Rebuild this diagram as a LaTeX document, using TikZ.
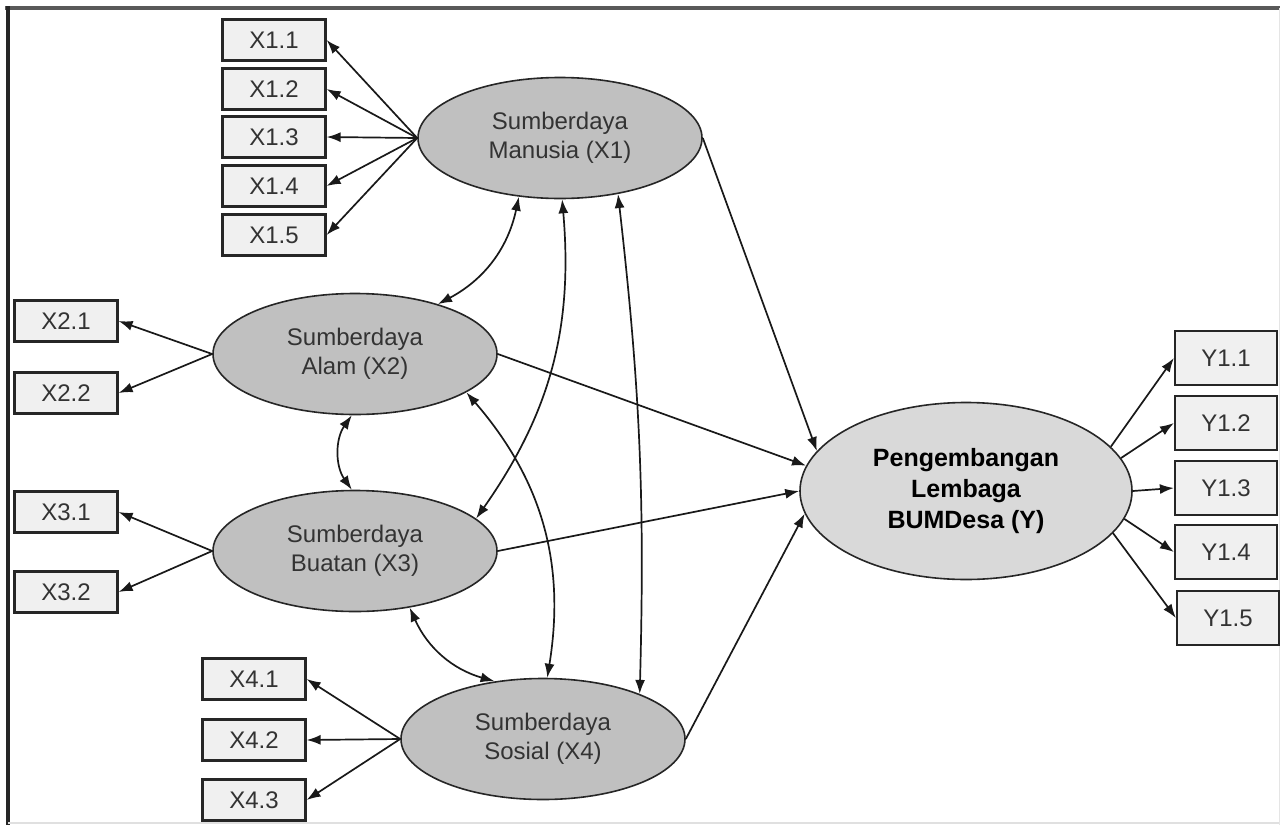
\documentclass[tikz,border=0pt]{standalone}
\usepackage{fontspec}
\setmainfont{Liberation Sans}
\usetikzlibrary{positioning,arrows.meta,shapes.geometric}

\definecolor{latentgray}{HTML}{C0C0C0}
\definecolor{targetgray}{HTML}{D9D9D9}
\definecolor{boxgray}{HTML}{F0F0F0}
\definecolor{textgray}{HTML}{333333}

\begin{document}
\begin{tikzpicture}[x=1pt,y=1pt,
  indicator/.style={draw=black!85, fill=boxgray, line width=2.2pt, minimum width=103pt,
    minimum height=41pt, inner sep=0pt, text=textgray, font=\fontsize{24}{29}\selectfont},
  yindicator/.style={indicator, minimum width=102pt, minimum height=54pt},
  latent/.style={ellipse, draw=black!85, fill=latentgray, line width=1.6pt, minimum width=284pt,
    minimum height=121pt, inner sep=0pt, align=center, text=textgray, font=\fontsize{24}{29}\selectfont},
  target/.style={latent, fill=targetgray, minimum width=332pt, minimum height=177pt,
    text=black, font=\bfseries\fontsize{25}{31}\selectfont},
  load/.style={-{Latex[length=14pt,width=10pt]}, line width=1.7pt, black!90},
  cov/.style={{Latex[length=14pt,width=10pt]}-{Latex[length=14pt,width=10pt]}, line width=1.7pt, black!90}
]
\fill[white] (0,0) rectangle (1280,-825);
\useasboundingbox (0,0) rectangle (1280,-825);

% frame
\draw[line width=4pt, black!65] (5,-8) -- (1280,-8);
\draw[line width=4pt, black!85] (8,-6) -- (8,-825);
\draw[line width=1.5pt, black!12] (8,-823) -- (1280,-823);
\draw[line width=1pt, black!10] (1279,-8) -- (1279,-825);

% latent variables
\node[latent] (x1) at (560,-138) {Sumberdaya\\Manusia (X1)};
\node[latent] (x2) at (355,-354) {Sumberdaya\\Alam (X2)};
\node[latent] (x3) at (355,-551) {Sumberdaya\\Buatan (X3)};
\node[latent] (x4) at (543,-739) {Sumberdaya\\Sosial (X4)};
\node[target] (y) at (966,-491) {Pengembangan\\Lembaga\\BUMDesa (Y)};

% indicators
\node[indicator] (x11) at (274,-40) {X1.1};
\node[indicator] (x12) at (274,-89) {X1.2};
\node[indicator] (x13) at (274,-137) {X1.3};
\node[indicator] (x14) at (274,-186) {X1.4};
\node[indicator] (x15) at (274,-235) {X1.5};

\node[indicator] (x21) at (66,-321) {X2.1};
\node[indicator] (x22) at (66,-393) {X2.2};
\node[indicator] (x31) at (66,-512) {X3.1};
\node[indicator] (x32) at (66,-592) {X3.2};

\node[indicator] (x41) at (254,-679) {X4.1};
\node[indicator] (x42) at (254,-740) {X4.2};
\node[indicator] (x43) at (254,-800) {X4.3};

\node[yindicator] (y11) at (1226,-358) {Y1.1};
\node[yindicator] (y12) at (1226,-423) {Y1.2};
\node[yindicator] (y13) at (1226,-488) {Y1.3};
\node[yindicator] (y14) at (1226,-552) {Y1.4};
\node[yindicator] (y15) at (1228,-618) {Y1.5};

% loadings
\draw[load] (x1.west) -- (x11.east);
\draw[load] (x1.west) -- (x12.east);
\draw[load] (x1.west) -- (x13.east);
\draw[load] (x1.west) -- (x14.east);
\draw[load] (x1.west) -- (x15.east);
\draw[load] (x2.west) -- (x21.east);
\draw[load] (x2.west) -- (x22.east);
\draw[load] (x3.west) -- (x31.east);
\draw[load] (x3.west) -- (x32.east);
\draw[load] (x4.west) -- (x41.east);
\draw[load] (x4.west) -- (x42.east);
\draw[load] (x4.west) -- (x43.east);
\draw[load] (y.17) -- (y11.west);
\draw[load] (y.12) -- (y12.west);
\draw[load] (y.east) -- (y13.west);
\draw[load] (y.-10) -- (y14.west);
\draw[load] (y.-16) -- (y15.west);

% structural paths
\draw[load] (x1.east) -- (y.165);
\draw[load] (x2.east) -- (y.171);
\draw[load] (x3.east) -- (y.180);
\draw[load] (x4.east) -- (y.188);

% correlations
\draw[cov] (x1.235) to[bend left=25] (x2.31);
\draw[cov] (x1.272) to[bend left=20] (x3.15);
\draw[cov] (x1.-44) to[bend left=4] (x4.25);
\draw[cov] (x2.341) to[bend left=25] (x4.86);
\draw[cov] (x2.267) to[bend right=35] (x3.93);
\draw[cov] (x3.314) to[bend right=25] (x4.130);
\end{tikzpicture}
\end{document}
